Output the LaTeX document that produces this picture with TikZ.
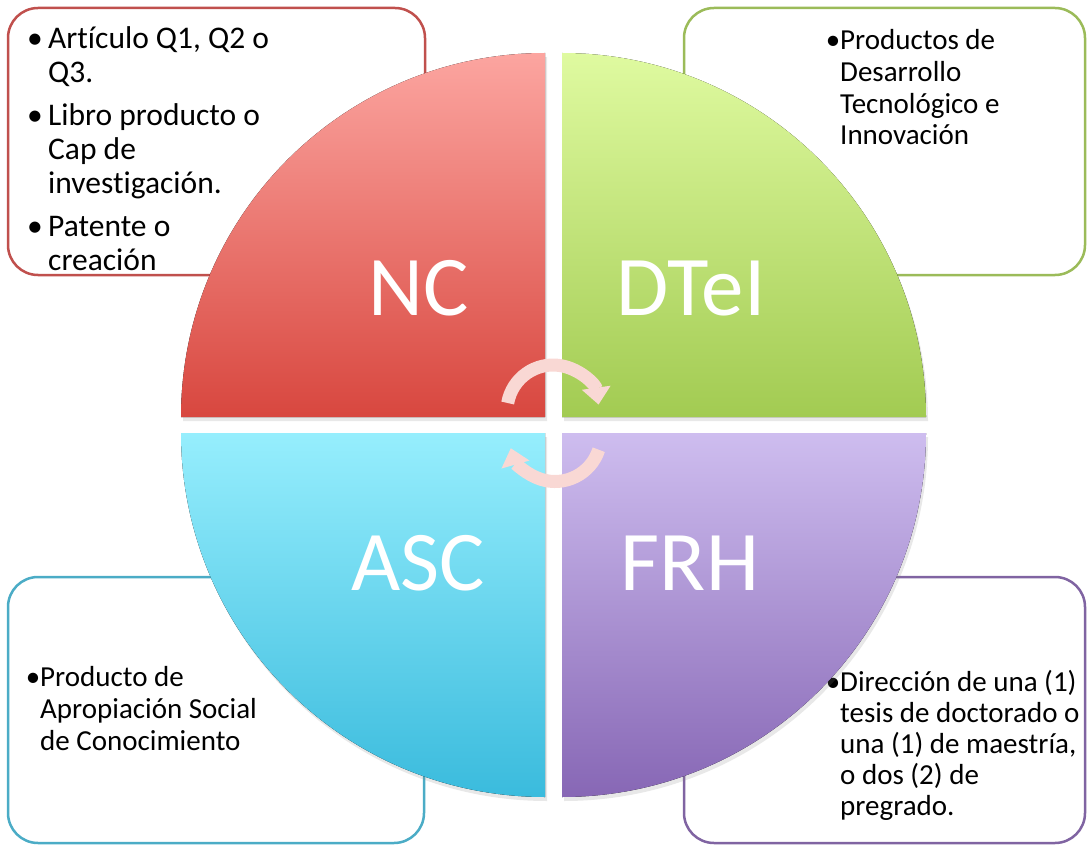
\documentclass[tikz,border=0pt]{standalone}
\usepackage{fontspec}
\setmainfont[Ligatures=NoCommon]{Carlito}
\usetikzlibrary{arrows.meta,shadows}
\definecolor{ncline}{HTML}{C0504D}
\definecolor{dtline}{HTML}{9BBB59}
\definecolor{asline}{HTML}{4BACC6}
\definecolor{frline}{HTML}{8064A2}
\definecolor{nctop}{HTML}{FCA5A0}
\definecolor{ncbot}{HTML}{D8473F}
\definecolor{dttop}{HTML}{DFFAA0}
\definecolor{dtbot}{HTML}{A2CB52}
\definecolor{astop}{HTML}{96EEFD}
\definecolor{asbot}{HTML}{3ABBDD}
\definecolor{frtop}{HTML}{CEBDEF}
\definecolor{frbot}{HTML}{8767B5}
\definecolor{turnpink}{HTML}{F9D8D4}
\tikzset{
    itembox/.style={draw, rounded corners=30pt, line width=2.5pt, fill=white, inner sep=0pt}, % 定义文本框的样式
    itemtext/.style={align=left, anchor=base west, inner sep=0pt, font=\fontsize{29}{31.7}\selectfont}, % 定义框内文字的样式（锚点在最后一行）
    biglabel/.style={text=white, anchor=base, inner sep=0pt, font=\fontsize{85}{90}\selectfont}, % 定义扇形标签的样式
    turn/.style={draw=turnpink, line width=13pt, -{Triangle[width=28pt,length=17pt]}} % 定义中心箭头的样式
}
\newcommand{\itm}{\llap{\textbullet}}
\newcommand{\itmwide}{\llap{\makebox[21pt][l]{\textbullet}}}

\begin{document}
\begin{tikzpicture}[x=1pt, y=-1pt]
            \def\R{364}
            \useasboundingbox (0,0) rectangle (1087,845);

            \node[itembox, draw=ncline, minimum width=417, minimum height=267] (ncbox) at (216.5,141.5) {};
            \node[itembox, draw=dtline, minimum width=401, minimum height=267] (dtbox) at (884.5,141.5) {};
            \node[itembox, draw=asline, minimum width=416, minimum height=266] (asbox) at (216,710) {};
            \node[itembox, draw=frline, minimum width=401, minimum height=266] (frbox) at (884.5,710) {};

            \node[itemtext, font=\fontsize{31.5}{34}\selectfont] (nctext) at (48,270) {\itmwide Artículo Q1, Q2 o\\ Q3.\\[9pt]\itmwide Libro producto o\\ Cap de\\ investigación.\\[9pt]\itmwide Patente o\\ creación};
            \node[itemtext] (dttext) at (840,145) {\itm Productos de\\ Desarrollo\\ Tecnológico e\\ Innovación};
            \node[itemtext] (astext) at (40,750) {\itm Producto de\\ Apropiación Social\\ de Conocimiento};
            \node[itemtext, font=\fontsize{29}{31}\selectfont] (frtext) at (840,815) {\itm Dirección de una (1)\\ tesis de doctorado o\\ una (1) de maestría,\\ o dos (2) de\\ pregrado.};

            \foreach \cx/\cy/\a/\b/\ct/\cb in {545/417/180/270/nctop/ncbot, 562/417/0/-90/dttop/dtbot, 545/433/180/90/astop/asbot, 562/433/0/90/frtop/frbot} {
                \fill[top color=\ct, bottom color=\cb, drop shadow={opacity=0.18, shadow xshift=2pt, shadow yshift=-4pt}] (\cx,\cy) -- ++(\a:\R) arc (\a:\b:\R) -- cycle;
            }

            \node[biglabel] (nc) at (419,315) {NC};
            \node[biglabel] (dtei) at (691,315) {DTeI};
            \node[biglabel] (asc) at (418,590) {ASC};
            \node[biglabel] (frh) at (690,590) {FRH};

            \draw[turn] (553,411) ++(190:46) arc (190:352:46);
            \draw[turn] (555,435.5) ++(18:46) arc (18:164:46);
        \end{tikzpicture}
\end{document}
